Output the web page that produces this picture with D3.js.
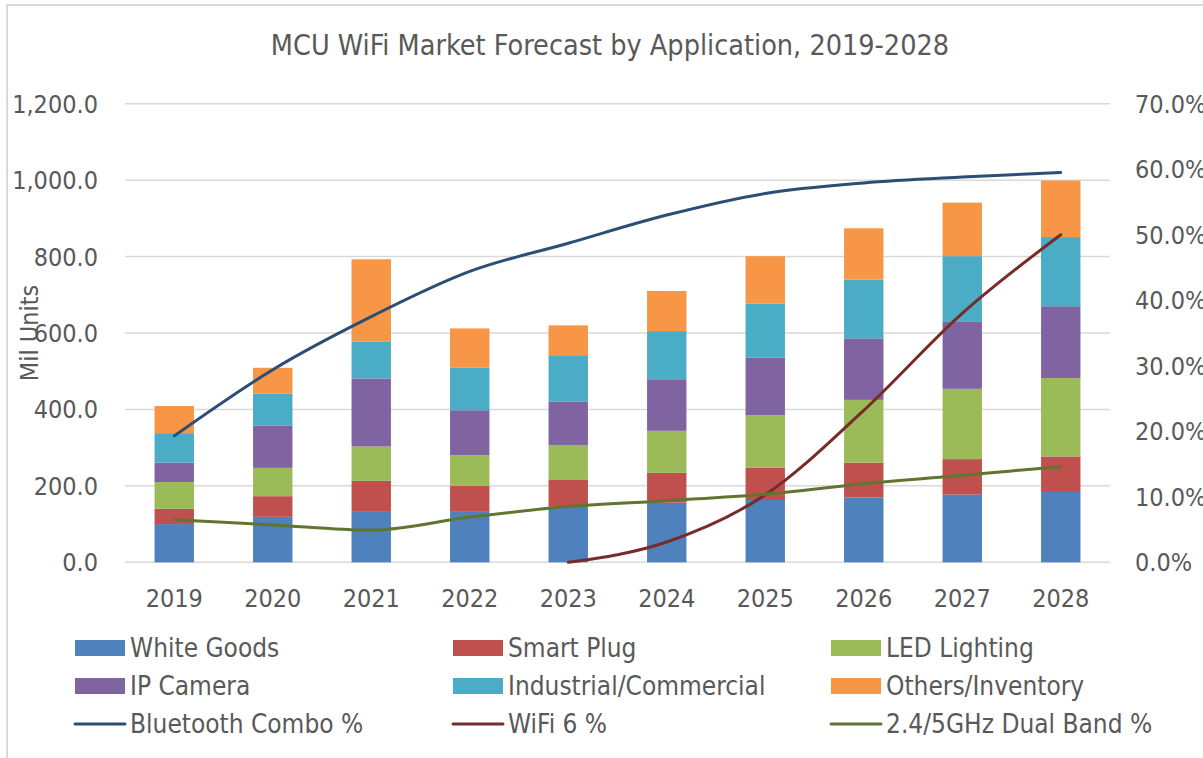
<!DOCTYPE html>
<html>
<head>
<meta charset="utf-8">
<script src="https://cdn.jsdelivr.net/npm/d3@7"></script>
<style>
  body { margin: 0; background: #fff; }
  text { font-family: "DejaVu Sans Condensed", "DejaVu Sans", sans-serif; fill: #595959; }
</style>
</head>
<body>
<div id="chart"></div>
<script>
// data
var years = ["2019", "2020", "2021", "2022", "2023", "2024", "2025", "2026", "2027", "2028"];
var whiteGoods = [100, 119, 132, 132, 145, 156, 163, 170, 177, 184];
var smartPlug  = [40, 54, 81, 68, 72, 78, 85, 91, 93, 93];
var ledLighting = [70, 74, 90, 80, 90, 110, 137, 164, 184, 205];
var ipCamera   = [51, 110, 178, 118, 114, 135, 151, 161, 175, 188];
var industrial = [77, 85, 97, 111, 121, 126, 141, 154, 172, 181];
var others     = [71, 67, 215, 103, 78, 105, 124, 134, 140, 148];
var bluetoothPct = [19.3, 29.4, 37.5, 44.4, 48.7, 53.0, 56.3, 57.9, 58.8, 59.5];
var wifi6Pct     = [null, null, null, null, 0.0, 3.1, 10.3, 23.2, 38.0, 50.0];
var dualBandPct  = [6.5, 5.7, 4.9, 6.9, 8.5, 9.4, 10.4, 12.0, 13.3, 14.6];
var leftTicks = [0, 200, 400, 600, 800, 1000, 1200];
var rightTicks = [0, 10, 20, 30, 40, 50, 60, 70];

var barSeries = [
  {name: "White Goods", values: whiteGoods, color: "#4f81bd"},
  {name: "Smart Plug", values: smartPlug, color: "#c0504d"},
  {name: "LED Lighting", values: ledLighting, color: "#9bbb59"},
  {name: "IP Camera", values: ipCamera, color: "#8064a2"},
  {name: "Industrial/Commercial", values: industrial, color: "#4bacc6"},
  {name: "Others/Inventory", values: others, color: "#f79646"}
];
var lineSeries = [
  {name: "Bluetooth Combo %", values: bluetoothPct, color: "#2c4d75"},
  {name: "WiFi 6 %", values: wifi6Pct, color: "#772c2a"},
  {name: "2.4/5GHz Dual Band %", values: dualBandPct, color: "#5f7530"}
];

var W = 1203, H = 758;
var plot = {left: 125, right: 1110, top: 103.7, bottom: 562.3};

var svg = d3.select("#chart").append("svg")
  .attr("width", W)
  .attr("height", H);

// chart border (only top and left show in the picture)
svg.append("rect")
  .attr("x", 7).attr("y", 5)
  .attr("width", W + 20).attr("height", H + 20)
  .attr("fill", "none")
  .attr("stroke", "#d9d9d9")
  .attr("stroke-width", 2);

var x = d3.scaleBand().domain(years).range([plot.left, plot.right]).paddingInner(0.6).paddingOuter(0.3);
var y = d3.scaleLinear().domain([0, 1200]).range([plot.bottom, plot.top]);
var y2 = d3.scaleLinear().domain([0, 70]).range([plot.bottom, plot.top]);

// gridlines
svg.append("g")
  .selectAll("line")
  .data(leftTicks)
  .enter().append("line")
  .attr("x1", plot.left).attr("x2", plot.right)
  .attr("y1", d => y(d)).attr("y2", d => y(d))
  .attr("stroke", "#d9d9d9")
  .attr("stroke-width", 1.5);

// left axis labels
var fmtL = d3.format(",.1f");
svg.append("g")
  .selectAll("text")
  .data(leftTicks)
  .enter().append("text")
  .attr("x", 98)
  .attr("y", d => y(d))
  .attr("dy", "0.36em")
  .attr("text-anchor", "end")
  .style("font-size", "25px")
  .text(d => fmtL(d));

// right axis labels (cut off by the page edge, like the original)
svg.append("g")
  .selectAll("text")
  .data(rightTicks)
  .enter().append("text")
  .attr("x", 1135)
  .attr("y", d => y2(d))
  .attr("dy", "0.36em")
  .attr("text-anchor", "start")
  .style("font-size", "25px")
  .text(d => d.toFixed(1) + "%");

// x labels
svg.append("g")
  .selectAll("text")
  .data(years)
  .enter().append("text")
  .attr("x", d => x(d) + x.bandwidth() / 2)
  .attr("y", 598)
  .attr("dy", "0.36em")
  .attr("text-anchor", "middle")
  .style("font-size", "25px")
  .text(d => d);

// stacked bars
var rows = years.map(function(yr, i) {
  var r = {year: yr};
  barSeries.forEach(s => { r[s.name] = s.values[i]; });
  return r;
});
var stack = d3.stack().keys(barSeries.map(s => s.name));
var layers = stack(rows);

svg.append("g")
  .selectAll("g")
  .data(layers)
  .enter().append("g")
  .attr("fill", (d, i) => barSeries[i].color)
  .selectAll("rect")
  .data(d => d)
  .enter().append("rect")
  .attr("x", d => x(d.data.year))
  .attr("width", x.bandwidth())
  .attr("y", d => y(d[1]))
  .attr("height", d => y(d[0]) - y(d[1]));

// percentage lines on the right axis
var line = d3.line()
  .defined(d => d.v != null)
  .x(d => x(d.yr) + x.bandwidth() / 2)
  .y(d => y2(d.v))
  .curve(d3.curveMonotoneX);

lineSeries.forEach(function(s) {
  var pts = years.map((yr, i) => ({yr: yr, v: s.values[i]}));
  svg.append("path")
    .datum(pts)
    .attr("fill", "none")
    .attr("stroke", s.color)
    .attr("stroke-width", 3)
    .attr("stroke-linecap", "round")
    .attr("d", line);
});

// title
svg.append("text")
  .attr("x", 610)
  .attr("y", 45)
  .attr("dy", "0.36em")
  .attr("text-anchor", "middle")
  .style("font-size", "28.5px")
  .text("MCU WiFi Market Forecast by Application, 2019-2028");

// y axis title
svg.append("text")
  .attr("transform", "translate(29,333) rotate(-90)")
  .attr("dy", "0.36em")
  .attr("text-anchor", "middle")
  .style("font-size", "25px")
  .text("Mil Units");

// legend
var legendItems = barSeries.map(s => ({name: s.name, color: s.color, kind: "bar"}))
  .concat(lineSeries.map(s => ({name: s.name, color: s.color, kind: "line"})));
var colX = [75, 453, 831];
var rowY = [648, 686, 724];

var leg = svg.append("g")
  .selectAll("g")
  .data(legendItems)
  .enter().append("g")
  .attr("transform", (d, i) => "translate(" + colX[i % 3] + "," + rowY[Math.floor(i / 3)] + ")");

leg.filter(d => d.kind === "bar").append("rect")
  .attr("x", 0).attr("y", -8)
  .attr("width", 50).attr("height", 16)
  .attr("fill", d => d.color);

leg.filter(d => d.kind === "line").append("line")
  .attr("x1", 0).attr("x2", 50)
  .attr("y1", 0).attr("y2", 0)
  .attr("stroke", d => d.color)
  .attr("stroke-width", 3)
  .attr("stroke-linecap", "round");

leg.append("text")
  .attr("x", 55)
  .attr("y", 0)
  .attr("dy", "0.36em")
  .style("font-size", "26px")
  .text(d => d.name);
</script>
</body>
</html>
